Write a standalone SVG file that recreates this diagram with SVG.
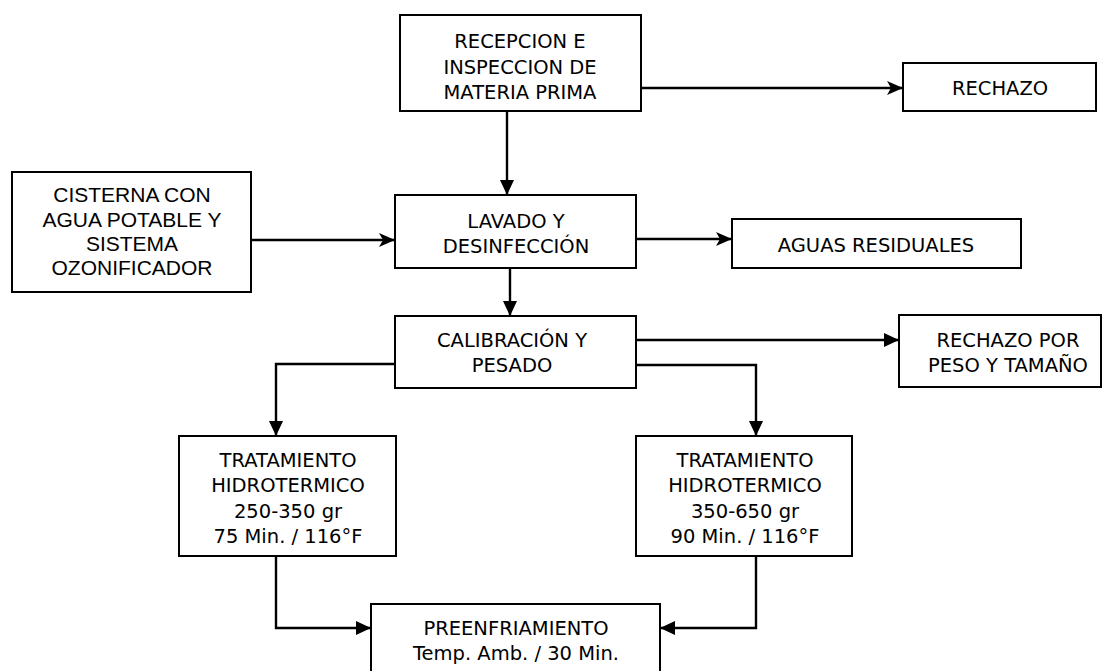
<svg xmlns="http://www.w3.org/2000/svg" width="1104" height="671" viewBox="0 0 1104 671">
  <style>
    .box { fill: #ffffff; stroke: #000000; stroke-width: 2; }
    .lbl { font-family: "DejaVu Sans", Verdana, sans-serif; font-size: 19.5px; fill: #000000; text-anchor: middle; }
    .arial { font-family: "Liberation Sans", Arial, sans-serif; font-size: 21px; fill: #000000; text-anchor: middle; }
    .wire-s { fill: none; stroke: #000000; stroke-width: 2.4; marker-end: url(#stealth); }
    .wire-t { fill: none; stroke: #000000; stroke-width: 2.4; marker-end: url(#tri); }
  </style>
  <defs>
    <marker id="stealth" viewBox="0 0 16 14" refX="16" refY="7" markerWidth="16" markerHeight="14" markerUnits="userSpaceOnUse" orient="auto">
      <path d="M0,0 L16,7 L0,14 L4,7 Z" fill="#000000"/>
    </marker>
    <marker id="tri" viewBox="0 0 15 14" refX="15" refY="7" markerWidth="15" markerHeight="14" markerUnits="userSpaceOnUse" orient="auto">
      <path d="M0,0 L15,7 L0,14 Z" fill="#000000"/>
    </marker>
  </defs>

  <rect width="1104" height="671" fill="#ffffff"/>

  <!-- connectors -->
  <g id="connectors">
    <path class="wire-s" d="M635,88 H903"/>
    <path class="wire-t" d="M507,111 V195"/>
    <path class="wire-s" d="M251,240 H395"/>
    <path class="wire-s" d="M636,239 H732"/>
    <path class="wire-t" d="M510,268 V316"/>
    <path class="wire-t" d="M635,340 H899"/>
    <path class="wire-t" d="M395,364 H276 V436"/>
    <path class="wire-t" d="M636,365 H756 V436"/>
    <path class="wire-t" d="M276,556 V628 H371"/>
    <path class="wire-t" d="M756,556 V628 H660"/>
  </g>

  <!-- process steps -->
  <g id="recepcion">
    <rect class="box" x="400" y="15" width="241" height="96"/>
    <text class="lbl" x="520" y="48">RECEPCION E</text>
    <text class="lbl" x="520" y="74">INSPECCION DE</text>
    <text class="lbl" x="520" y="99">MATERIA PRIMA</text>
  </g>

  <g id="rechazo">
    <rect class="box" x="903" y="63" width="193" height="48"/>
    <text class="lbl" x="1000" y="95">RECHAZO</text>
  </g>

  <g id="cisterna">
    <rect class="box" x="12" y="172" width="239" height="120"/>
    <text class="arial" x="132" y="202">CISTERNA CON</text>
    <text class="arial" x="132" y="227">AGUA POTABLE Y</text>
    <text class="arial" x="132" y="251">SISTEMA</text>
    <text class="arial" x="132" y="275">OZONIFICADOR</text>
  </g>

  <g id="lavado">
    <rect class="box" x="395" y="195" width="241" height="73"/>
    <text class="lbl" x="516" y="228">LAVADO Y</text>
    <text class="lbl" x="516" y="253">DESINFECCIÓN</text>
  </g>

  <g id="aguas">
    <rect class="box" x="732" y="219" width="289" height="49"/>
    <text class="lbl" x="876" y="252">AGUAS RESIDUALES</text>
  </g>

  <g id="calibracion">
    <rect class="box" x="395" y="316" width="241" height="72"/>
    <text class="lbl" x="512" y="347">CALIBRACIÓN Y</text>
    <text class="lbl" x="512" y="372">PESADO</text>
  </g>

  <g id="rechazo-peso">
    <rect class="box" x="899" y="315" width="202" height="72"/>
    <text class="lbl" x="1008" y="347">RECHAZO POR</text>
    <text class="lbl" x="1008" y="372">PESO Y TAMAÑO</text>
  </g>

  <g id="tratamiento-250">
    <rect class="box" x="179" y="436" width="217" height="120"/>
    <text class="lbl" x="288" y="467">TRATAMIENTO</text>
    <text class="lbl" x="288" y="492">HIDROTERMICO</text>
    <text class="lbl" x="288" y="518">250-350 gr</text>
    <text class="lbl" x="288" y="543">75 Min. / 116°F</text>
  </g>

  <g id="tratamiento-350">
    <rect class="box" x="636" y="436" width="216" height="120"/>
    <text class="lbl" x="745" y="467">TRATAMIENTO</text>
    <text class="lbl" x="745" y="492">HIDROTERMICO</text>
    <text class="lbl" x="745" y="518">350-650 gr</text>
    <text class="lbl" x="745" y="543">90 Min. / 116°F</text>
  </g>

  <g id="preenfriamiento">
    <rect class="box" x="371" y="604" width="289" height="80"/>
    <text class="lbl" x="516" y="635">PREENFRIAMIENTO</text>
    <text class="lbl" x="516" y="660">Temp. Amb. / 30 Min.</text>
  </g>
</svg>
